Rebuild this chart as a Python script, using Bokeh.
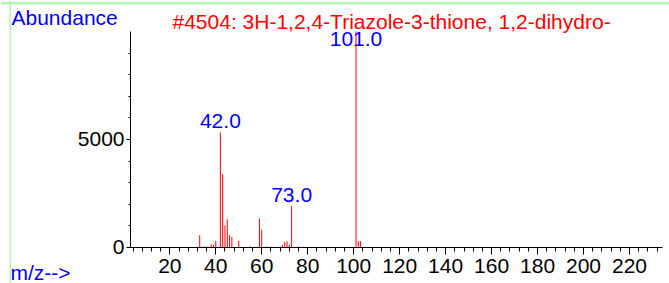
from bokeh.plotting import figure
from bokeh.models import Range1d, FixedTicker, Label, BoxAnnotation
from bokeh.embed import file_html
from bokeh.resources import INLINE

# ---- data ----
mz = [33, 34, 35, 36, 38, 39, 40, 42, 43, 44, 45, 46, 47, 50, 55, 59, 60, 62, 64,
      68, 69, 70, 71, 72, 73, 76, 101, 102, 103]
abundance = [560, 45, 45, 45, 150, 120, 310, 5330, 3400, 1020, 1300, 580, 490, 310, 55,
             1340, 825, 45, 40, 55, 120, 250, 285, 130, 1920, 45, 9999, 300, 290]
label_mz = [42.0, 73.0, 101.0]
label_text = ["42.0", "73.0", "101.0"]
x_major = [20, 40, 60, 80, 100, 120, 140, 160, 180, 200, 220]
x_minor = list(range(4, 234, 4))
y_major = [0, 5000]
y_minor = [1000, 2000, 3000, 4000, 6000, 7000, 8000, 9000]
title_text = "#4504: 3H-1,2,4-Triazole-3-thione, 1,2-dihydro-"

FONT = "Liberation Sans"
X_AXIS = (2.9, 234.4)      # extent of the drawn m/z axis
Y_AXIS = (0, 10000)        # extent of the drawn abundance axis

W, H = 669, 283
# frame covers the whole canvas; axes are drawn at fixed locations inside it
p = figure(width=W, height=H, output_backend="svg", toolbar_location=None,
           x_range=Range1d(-53.66, 237.4), y_range=Range1d(-1667, 11435),
           min_border=0, min_border_left=0, min_border_right=0,
           min_border_top=0, min_border_bottom=0)
p.outline_line_color = None
p.xgrid.visible = False
p.ygrid.visible = False
p.background_fill_color = "white"
p.border_fill_color = "white"

p.segment(x0=mz, y0=[0] * len(mz), x1=mz, y1=abundance, line_color="#FF0000", line_width=1)

for ax in (p.xaxis[0], p.yaxis[0]):
    ax.axis_line_color = "black"
    ax.major_tick_line_color = "black"
    ax.minor_tick_line_color = "black"
    ax.major_label_text_font = FONT
    ax.major_label_text_font_size = "21px"
    ax.major_label_text_color = "black"
    ax.major_tick_in = 0
    ax.minor_tick_in = 0

p.xaxis.ticker = FixedTicker(ticks=x_major, minor_ticks=x_minor)
p.xaxis.fixed_location = Y_AXIS[0]
p.xaxis.bounds = X_AXIS
p.xaxis.major_tick_out = 7
p.xaxis.minor_tick_out = 4
p.xaxis.major_label_standoff = 5

p.yaxis.ticker = FixedTicker(ticks=y_major, minor_ticks=y_minor)
p.yaxis.fixed_location = X_AXIS[0]
p.yaxis.bounds = Y_AXIS
p.yaxis.major_tick_out = 4
p.yaxis.minor_tick_out = 2
p.yaxis.major_label_standoff = 2

# peak labels
ab_of = dict(zip(mz, abundance))
for m, t in zip(label_mz, label_text):
    h = ab_of[int(m)]
    if h > 0.9 * Y_AXIS[1]:
        lab = Label(x=m, y=Y_AXIS[1], text=t, text_align="center", text_baseline="top",
                    y_offset=-1)
    else:
        lab = Label(x=m, y=h, text=t, text_align="center", text_baseline="alphabetic",
                    y_offset=11)
    lab.text_font = FONT
    lab.text_font_size = "21px"
    lab.text_color = "#0000FF"
    p.add_layout(lab)

# header / footer texts (screen units from the canvas bottom-left)
p.add_layout(Label(x=11, y=H - 17, x_units="screen", y_units="screen", text="Abundance",
                   text_font=FONT, text_font_size="21px", text_color="#0000FF",
                   text_baseline="alphabetic"))
p.add_layout(Label(x=172, y=H - 20.5, x_units="screen", y_units="screen", text=title_text,
                   text_font=FONT, text_font_size="21px", text_color="#FF0000",
                   text_baseline="alphabetic"))
p.add_layout(Label(x=10, y=H - 272, x_units="screen", y_units="screen", text="m/z-->",
                   text_font=FONT, text_font_size="21px", text_color="#0000FF",
                   text_baseline="alphabetic"))

# pale green frame lines
p.add_layout(BoxAnnotation(left=0, right=W, top=H - 1.5, bottom=H - 4,
                           left_units="screen", right_units="screen",
                           top_units="screen", bottom_units="screen",
                           fill_color="#B4F5B4", fill_alpha=1, line_color=None))
p.add_layout(BoxAnnotation(left=9, right=10.5, top=H, bottom=0,
                           left_units="screen", right_units="screen",
                           top_units="screen", bottom_units="screen",
                           fill_color="#B4F5B4", fill_alpha=1, line_color=None))

open("out.html", "w").write(file_html(p, INLINE))
